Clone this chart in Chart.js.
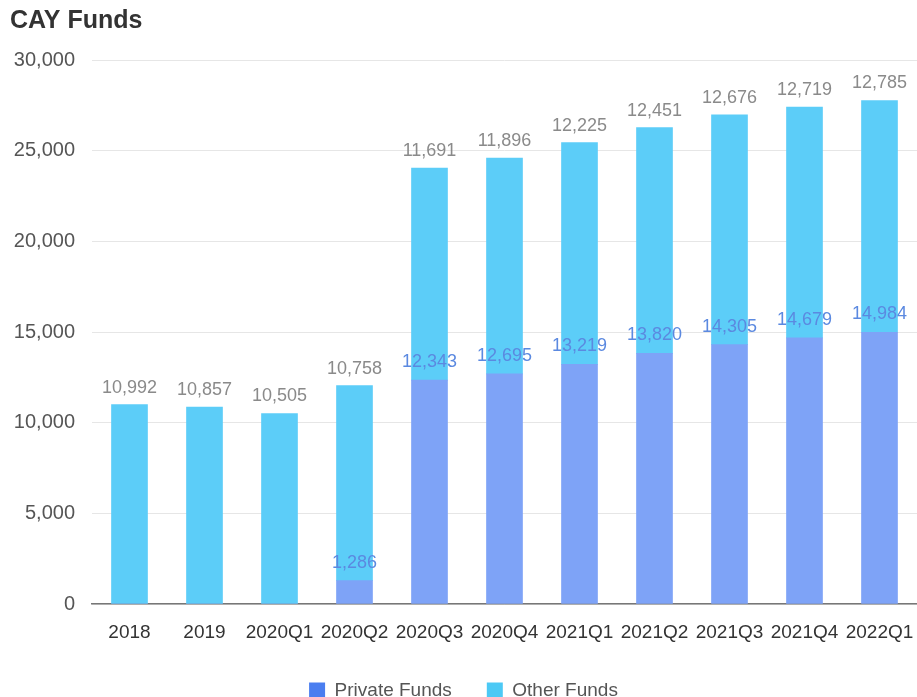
<!DOCTYPE html>
<html>
<head>
<meta charset="utf-8">
<title>CAY Funds</title>
<script src="https://cdn.jsdelivr.net/npm/chart.js@4.4.0/dist/chart.umd.min.js"></script>
<style>
  html, body { margin: 0; padding: 0; background: #fff; height: 697px; overflow: hidden; }
  #wrap { width: 917px; height: 710px; }
</style>
</head>
<body>
<div id="wrap"><canvas id="fundsChart" width="917" height="710"></canvas></div>
<script>
// CAY fund balances, stacked by type
const periods = ["2018", "2019", "2020Q1", "2020Q2", "2020Q3", "2020Q4", "2021Q1", "2021Q2", "2021Q3", "2021Q4", "2022Q1"];
const privateFunds = [0, 0, 0, 1286, 12343, 12695, 13219, 13820, 14305, 14679, 14984];
const otherFunds = [10992, 10857, 10505, 10758, 11691, 11896, 12225, 12451, 12676, 12719, 12785];
const yTicks = [0, 5000, 10000, 15000, 20000, 25000, 30000];

const fmt = (v) => v.toLocaleString("en-US");

Chart.defaults.font.family = "'Liberation Sans', Arial, sans-serif";

// draws the numbers over the bars
const valueLabels = {
  id: "valueLabels",
  afterDatasetsDraw(chart) {
    const ctx = chart.ctx;
    const privMeta = chart.getDatasetMeta(0);
    const otherMeta = chart.getDatasetMeta(1);
    ctx.save();
    ctx.font = "18px 'Liberation Sans', Arial, sans-serif";
    ctx.textAlign = "center";
    ctx.textBaseline = "middle";
    periods.forEach((p, i) => {
      const top = otherMeta.data[i];
      ctx.fillStyle = "#8a8a8a";
      ctx.fillText(fmt(otherFunds[i]), top.x, top.y - 17);
      if (privateFunds[i] > 0) {
        const seg = privMeta.data[i];
        ctx.fillStyle = "#5b89e0";
        ctx.fillText(fmt(privateFunds[i]), seg.x, seg.y - 18);
      }
    });
    ctx.restore();
  },
};

new Chart(document.getElementById("fundsChart"), {
  type: "bar",
  data: {
    labels: periods,
    datasets: [
      {
        label: "Private Funds",
        data: privateFunds,
        backgroundColor: "#7ea3f7",
        barThickness: 36,
      },
      {
        label: "Other Funds",
        data: otherFunds,
        backgroundColor: "#5ccdf8",
        barThickness: 36,
      },
    ],
  },
  options: {
    responsive: false,
    animation: false,
    layout: { padding: { left: 10, right: 0, top: 0, bottom: 0 } },
    plugins: {
      title: {
        display: true,
        text: "CAY Funds",
        align: "start",
        color: "#333",
        font: { size: 25, weight: "bold" },
        padding: { top: 6, bottom: 24 },
      },
      legend: {
        position: "bottom",
        labels: {
          color: "#555",
          font: { size: 19 },
          boxWidth: 16,
          boxHeight: 16,
          padding: 35,
          generateLabels(chart) {
            const items = Chart.defaults.plugins.legend.labels.generateLabels(chart);
            const boxColors = ["#4a7ef0", "#4cc9f5"];
            items.forEach((it, i) => {
              it.fillStyle = boxColors[i];
              it.strokeStyle = boxColors[i];
              it.lineWidth = 0;
            });
            return items;
          },
        },
      },
      tooltip: { enabled: false },
    },
    scales: {
      x: {
        stacked: true,
        grid: { display: false, drawTicks: false },
        border: { display: true, color: "#777", width: 1.5 },
        ticks: { color: "#333", font: { size: 19 }, padding: 17, maxRotation: 0, autoSkip: false },
        afterFit(scale) {
          scale.height = 42;
          scale.paddingLeft = 0;
          scale.paddingRight = 0;
        },
      },
      y: {
        stacked: true,
        min: 0,
        max: 30000,
        grid: { color: "#e6e6e6", lineWidth: 1, drawTicks: false },
        border: { display: false },
        afterBuildTicks(scale) {
          scale.ticks = yTicks.map((v) => ({ value: v }));
        },
        ticks: {
          color: "#555",
          font: { size: 20 },
          padding: 17,
          callback: (v) => fmt(v),
        },
        afterFit(scale) {
          scale.width = 82;
        },
      },
    },
  },
  plugins: [valueLabels],
});
</script>
</body>
</html>
